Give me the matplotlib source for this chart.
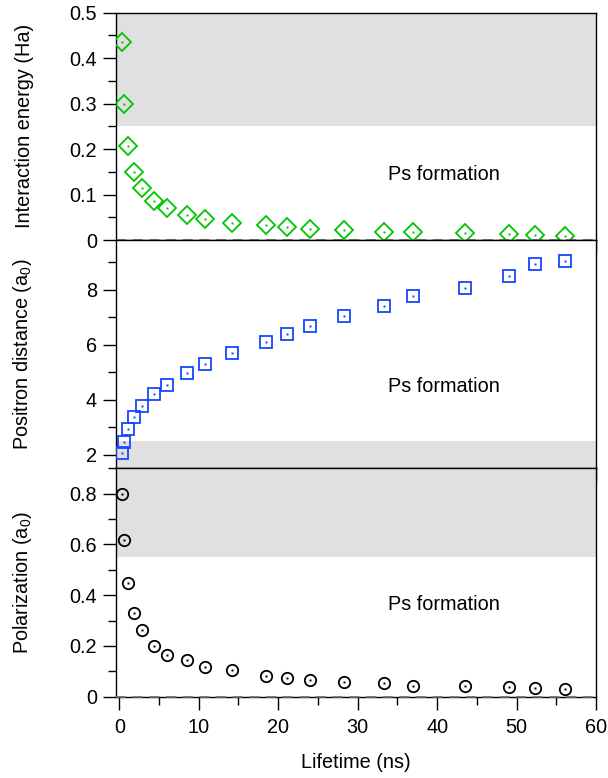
import numpy as np
import matplotlib
matplotlib.use("Agg")
import matplotlib.pyplot as plt
from matplotlib.ticker import MultipleLocator, FormatStrFormatter

plt.rcParams['font.family'] = ['Liberation Sans', 'DejaVu Sans']
plt.rcParams['mathtext.fontset'] = 'custom'
plt.rcParams['mathtext.rm'] = 'Liberation Sans'

# ── Data ──────────────────────────────────────────────────────────────────────
lifetime = [0.34, 0.55, 1.13, 1.81, 2.89, 4.32, 6.03, 8.5, 10.73, 14.16,
            18.5, 21.16, 24.05, 28.3, 33.3, 37.0, 43.5, 49.0, 52.3, 56.1]
energy = [0.436, 0.299, 0.207, 0.150, 0.115, 0.086, 0.070, 0.056, 0.047, 0.038,
          0.032, 0.029, 0.024, 0.023, 0.017, 0.017, 0.015, 0.013, 0.011, 0.009]
distance = [2.06, 2.47, 2.93, 3.35, 3.78, 4.19, 4.53, 4.95, 5.29, 5.71,
            6.09, 6.37, 6.67, 7.03, 7.39, 7.75, 8.04, 8.48, 8.91, 9.05]
polarization = [0.800, 0.617, 0.449, 0.331, 0.264, 0.199, 0.166, 0.146, 0.119, 0.104,
                0.082, 0.075, 0.067, 0.057, 0.055, 0.043, 0.042, 0.038, 0.033, 0.030]

# shaded (no Ps formation) bands
energy_band = (0.25, 0.5)
distance_band = (1.5, 2.5)
polar_band = (0.55, 0.9)

FS = 14.3
GREEN = '#00c400'
BLUE = '#1846ff'
BLACK = '#000000'

fig = plt.figure(figsize=(6.08, 7.78), dpi=100)
left, width = 0.1903, 0.790
ax1 = fig.add_axes([left, 0.6915, width, 0.2922])
ax2 = fig.add_axes([left, 0.3980, width, 0.2935])
ax3 = fig.add_axes([left, 0.1045, width, 0.2935])

panels = [
    (ax1, energy, GREEN, 'D', 8.7, (0, 0.5), energy_band, 0.1, 0.05, '%g',
     'Interaction energy (Ha)', 0.143),
    (ax2, distance, BLUE, 's', 8.4, (1.5, 9.8), distance_band, 2, 1, '%g',
     r'Positron distance (a$_\mathregular{0}$)', 4.48),
    (ax3, polarization, BLACK, 'o', 8.2, (0, 0.9), polar_band, 0.2, 0.1, '%g',
     r'Polarization (a$_\mathregular{0}$)', 0.362),
]

for ax, vals, col, mk, ms, ylim, band, major, minor, fmt, label, ty in panels:
    ax.axhspan(band[0], band[1], color='#e0e0e0', lw=0, zorder=0)
    ax.plot(lifetime, vals, ls='none', marker=mk, ms=ms, mfc='none',
            mec=col, mew=1.3, zorder=3)
    ax.plot(lifetime, vals, ls='none', marker='s', ms=1.9, mfc=col,
            mec='none', zorder=4)
    if ylim[0] == 0:
        ax.axhline(0, color='#6a6a6a', lw=1.2, ls=(0, (6, 4)), zorder=3,
                   clip_on=False)
    ax.set_xlim(-0.45, 60)
    ax.set_ylim(*ylim)
    ax.yaxis.set_major_locator(MultipleLocator(major))
    ax.yaxis.set_minor_locator(MultipleLocator(minor))
    ax.yaxis.set_major_formatter(FormatStrFormatter(fmt))
    ax.xaxis.set_major_locator(MultipleLocator(10))
    ax.xaxis.set_minor_locator(MultipleLocator(5))
    ax.tick_params(which='both', direction='out', top=False, right=False,
                   width=1.0, labelsize=FS, pad=4)
    ax.tick_params(axis='y', which='major', length=9.5)
    ax.tick_params(axis='y', which='minor', length=6.0)
    ax.tick_params(axis='x', which='major', length=9.5, pad=6)
    ax.tick_params(axis='x', which='minor', length=5.5)
    for s in ax.spines.values():
        s.set_linewidth(1.0)
    ax.set_ylabel(label, fontsize=FS)
    ax.yaxis.set_label_coords(-0.170, 0.5)
    ax.text(40.8, ty, 'Ps formation', fontsize=FS, ha='center', va='center')

ax1.tick_params(axis='x', labelbottom=False)
ax2.tick_params(axis='x', labelbottom=False)
ax3.set_xlabel('Lifetime (ns)', fontsize=FS, labelpad=11)

fig.savefig('out.png', dpi=100)
